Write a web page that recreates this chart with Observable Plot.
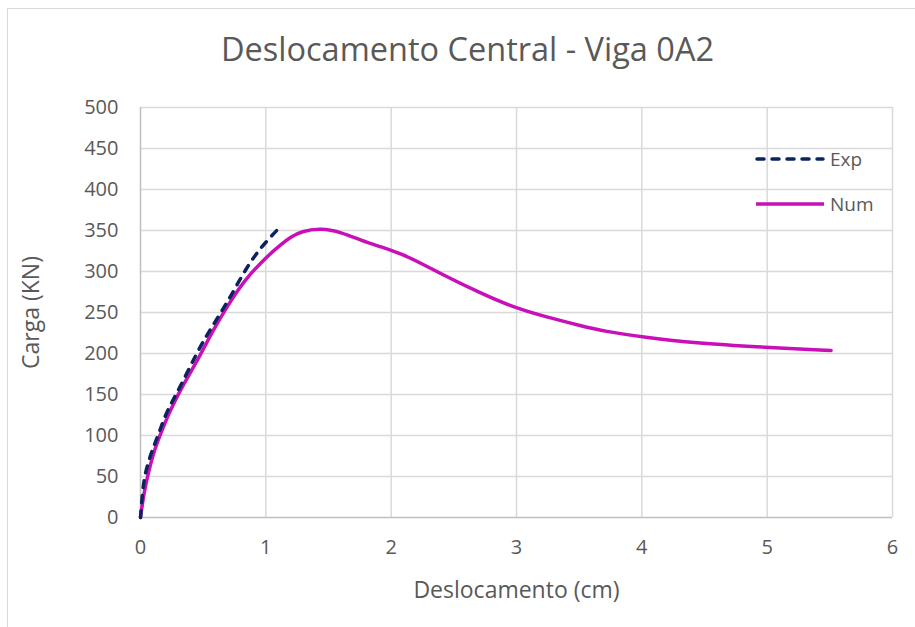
<!DOCTYPE html>
<html>
<head>
<meta charset="utf-8">
<script src="https://cdn.jsdelivr.net/npm/d3@7"></script>
<script src="https://cdn.jsdelivr.net/npm/@observablehq/plot@0.6"></script>
<style>
  html, body { margin: 0; padding: 0; background: #fff; overflow: hidden; }
  #wrap { position: relative; width: 915px; height: 627px; overflow: hidden; font-family: "Open Sans", sans-serif; color: #595959; }
  #frame { position: absolute; left: 7px; top: 8px; width: 1000px; height: 1000px; border: 1.5px solid #d9d9d9; box-sizing: border-box; }
  #title { position: absolute; left: 0; width: 935px; top: 26px; text-align: center; font-size: 32.5px; }
  #chart { position: absolute; left: 0; top: 0; }
  .leg { position: absolute; font-size: 19px; display: flex; align-items: center; }
</style>
</head>
<body>
<div id="wrap">
  <div id="frame"></div>
  <div id="chart"></div>
  <div id="title">Deslocamento Central - Viga 0A2</div>
  <div class="leg" style="left:754px; top:146px;">
    <svg width="72" height="10"><line x1="3" y1="5" x2="69" y2="5" stroke="#0b2460" stroke-width="3.5" stroke-dasharray="7,8" stroke-linecap="round"/></svg>
    <span style="margin-left:4px">Exp</span>
  </div>
  <div class="leg" style="left:754px; top:191px;">
    <svg width="72" height="10"><line x1="2" y1="5" x2="70" y2="5" stroke="#c80fb8" stroke-width="3.5"/></svg>
    <span style="margin-left:4px">Num</span>
  </div>
</div>
<script>
// Experimental curve (Exp)
const expX = [0, 0.02, 0.05, 0.1, 0.15, 0.21, 0.31, 0.44, 0.52, 0.585, 0.665, 0.72, 0.785, 0.85, 0.92, 1.0, 1.105];
const expY = [0, 40, 62, 85, 104, 130, 157, 198, 220, 236, 256, 270, 288, 305, 321, 336, 353];
// Numerical curve (Num)
const numX = [0, 0.027, 0.066, 0.106, 0.16, 0.226, 0.306, 0.373, 0.48, 0.585, 0.69, 0.825, 1.0, 1.12, 1.2, 1.28, 1.44, 1.6, 1.76, 1.92, 2.08, 2.24, 2.40, 2.72, 2.98, 3.25, 3.51, 3.70, 4.02, 4.42, 4.95, 5.51];
const numY = [0, 30, 57, 80, 102, 127, 152, 170, 199, 230, 257, 289, 317, 333, 342, 349, 353, 348, 338, 330, 321.6, 310, 297, 273, 256, 244, 234, 227, 220, 212.6, 207.7, 203.7];
// Ticks
const xTicks = [0, 1, 2, 3, 4, 5, 6];
const yTicks = [0, 50, 100, 150, 200, 250, 300, 350, 400, 450, 500];

const expData = expX.map((x, i) => ({x, y: expY[i]}));
const numData = numX.map((x, i) => ({x, y: numY[i]}));

const chart = Plot.plot({
  width: 915,
  height: 627,
  marginLeft: 140,
  marginRight: 23,
  marginTop: 107,
  marginBottom: 110,
  style: {fontFamily: "Open Sans, sans-serif", fontSize: "20px", color: "#595959", background: "transparent"},
  x: {domain: [0, 6], ticks: xTicks},
  y: {domain: [0, 500], ticks: yTicks},
  marks: [
    Plot.ruleY(yTicks.filter(d => d > 0), {stroke: "#d9d9d9", strokeWidth: 1.5, strokeOpacity: 1}),
    Plot.ruleX(xTicks.filter(d => d > 0), {stroke: "#d9d9d9", strokeWidth: 1.5, strokeOpacity: 1}),
    Plot.ruleY([0], {stroke: "#bfbfbf", strokeWidth: 1.5}),
    Plot.ruleX([0], {stroke: "#bfbfbf", strokeWidth: 1.5}),
    Plot.axisX({ticks: xTicks, tickFormat: d3.format("d"), tickSize: 0, tickPadding: 22, fontSize: 20, fill: "#595959", label: "Deslocamento (cm)", labelAnchor: "center", labelArrow: "none", labelOffset: 80}),
    Plot.axisY({ticks: yTicks, tickFormat: d3.format("d"), tickSize: 0, tickPadding: 22, fontSize: 20, fill: "#595959", label: "Carga (KN)", labelAnchor: "center", labelArrow: "none", labelOffset: 118}),
    Plot.line(numData, {x: "x", y: "y", stroke: "#c80fb8", strokeWidth: 3.5, curve: "basis"}),
    Plot.line(expData, {x: "x", y: "y", stroke: "#0b2460", strokeWidth: 3.5, strokeDasharray: "7,8", strokeLinecap: "round", curve: "basis"})
  ]
});
d3.select(chart).selectAll("text").filter(function(){return /Deslocamento \(cm\)|Carga \(KN\)/.test(this.textContent);}).style("font-size", "23px");
document.getElementById("chart").appendChild(chart);
</script>
</body>
</html>
